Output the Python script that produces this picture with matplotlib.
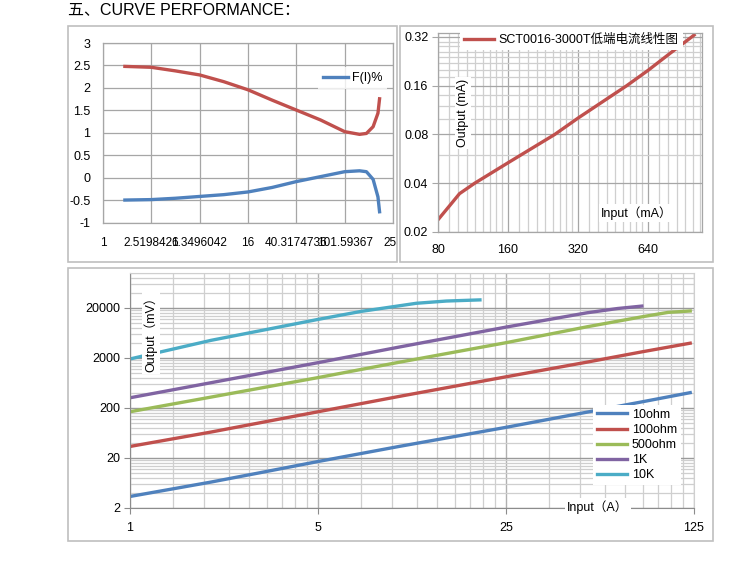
import numpy as np
import matplotlib
matplotlib.use("Agg")
import matplotlib.pyplot as plt
from matplotlib.patches import Rectangle
from matplotlib.ticker import FixedLocator, FixedFormatter, NullFormatter
from matplotlib.transforms import Bbox, TransformedBbox

plt.rcParams['font.family'] = ['Liberation Sans', 'Noto Sans CJK SC']

W, H = 750, 569

# --- top left: F(I)% ---
fi_x = [1.52, 2.52, 4.0, 6.35, 10.08, 16, 25.4, 40.3, 64, 101.6, 135, 154, 175, 192, 198]
fi_red = [2.48, 2.46, 2.38, 2.29, 2.14, 1.96, 1.73, 1.51, 1.29, 1.03, 0.97, 0.99, 1.14, 1.44, 1.76]
fi_blue = [-0.49, -0.48, -0.45, -0.41, -0.37, -0.31, -0.21, -0.08, 0.03, 0.14, 0.16, 0.14, -0.03, -0.42, -0.75]
fi_ticks = [1, 2.5198421, 6.3496042, 16, 40.3174736, 101.59367, 256]
fi_labels = ['1', '2.5198421', '6.3496042', '16', '40.3174736', '101.59367', '256']

# --- top right: low-end linearity ---
lin_in = [80, 90, 99, 115, 160, 254, 320, 518, 640, 800, 986, 1010]
lin_out = [0.0238, 0.0292, 0.0345, 0.040, 0.0535, 0.080, 0.101, 0.160, 0.199, 0.255, 0.320, 0.329]
lin_xticks = [80, 160, 320, 640]
lin_yticks = [0.02, 0.04, 0.08, 0.16, 0.32]

# --- bottom: output vs input for load resistors ---
loads = ['10ohm', '100ohm', '500ohm', '1K', '10K']
load_colors = ['#4F81BD', '#C0504D', '#9BBB59', '#8064A2', '#4BACC6']
in_10 = [1, 2, 3, 5, 10, 25, 50, 80, 121]
out_10 = [3.4, 6.6, 10, 17, 34, 82, 165, 265, 405]
in_100 = [1, 2, 5, 10, 25, 50, 80, 121]
out_100 = [34, 66, 168, 340, 840, 1650, 2650, 3950]
in_500 = [1, 2, 5, 10, 25, 50, 80, 100, 121]
out_500 = [168, 330, 810, 1640, 4040, 8400, 13300, 16300, 17400]
in_1k = [1, 2, 5, 10, 25, 50, 65, 80]
out_1k = [320, 640, 1610, 3300, 8280, 16000, 19500, 21800]
in_10k = [1, 2, 5, 7.2, 11.6, 15, 20]
out_10k = [1910, 4500, 11800, 17000, 24800, 27500, 29000]
big_xticks = [1, 5, 25, 125]
big_yticks = [2, 20, 200, 2000, 20000]

fig = plt.figure(figsize=(W / 100, H / 100), dpi=100)


def fbox(l, t, r, b):
    return [l / W, 1 - b / H, (r - l) / W, (b - t) / H]


def frame(l, t, r, b):
    fig.patches.append(Rectangle((l / W, 1 - b / H), (r - l) / W, (b - t) / H,
                                 transform=fig.transFigure, fill=False,
                                 ec='#bfbfbf', lw=1.2))


def linear_minors(majors, n, hi):
    out = []
    for a, b in zip(majors[:-1], majors[1:]):
        out += list(np.linspace(a, b, n + 1)[1:-1])
    return [v for v in out if v < hi]


fig.text(68 / W, 1 - 10 / H, '五、CURVE PERFORMANCE：', fontsize=11.5, va='center')

frame(68, 26, 397, 262)
frame(400, 26, 713, 262)
frame(68, 268, 713, 541)

grid_major = '#a6a6a6'
grid_minor = '#cfcfcf'

# top left
ax1 = fig.add_axes(fbox(103, 43, 393, 223))
ax1.plot(fi_x, fi_red, color='#C0504D', lw=2.4, label='_nolegend_')
ax1.plot(fi_x, fi_blue, color='#4F81BD', lw=2.4, label='F(I)%')
ax1.set_xscale('log', base=2)
ax1.set_xlim(1, 256)
ax1.set_ylim(-1, 3)
ax1.xaxis.set_major_locator(FixedLocator(fi_ticks))
ax1.xaxis.set_major_formatter(FixedFormatter(fi_labels))
ax1.xaxis.set_minor_locator(FixedLocator([]))
ax1.set_yticks(np.arange(-1, 3.01, 0.5))
ax1.set_yticklabels(['-1', '-0.5', '0', '0.5', '1', '1.5', '2', '2.5', '3'])
ax1.grid(True, color=grid_major, lw=0.9)
ax1.set_axisbelow(True)
ax1.tick_params(length=0, labelsize=9, pad=9)
ax1.tick_params(axis='x', pad=10, labelsize=8.5)
for s in ax1.spines.values():
    s.set_color(grid_major)
    s.set_linewidth(0.9)
ax1.legend(loc='center left', bbox_to_anchor=(318 / W, 1 - 78 / H),
           bbox_transform=fig.transFigure, frameon=True, fancybox=False,
           edgecolor='none', fontsize=9, handlelength=2.0, handletextpad=0.3,
           borderpad=0.4, borderaxespad=0)
clip = TransformedBbox(Bbox.from_extents(0, 0, 396 / W, 1), fig.transFigure)
for t in ax1.xaxis.get_major_ticks():
    t.label1.set_clip_on(True)
    t.label1.set_clip_box(clip)

# top right
ax2 = fig.add_axes(fbox(438, 32.7, 702, 232))
ax2.plot(lin_in, lin_out, color='#C0504D', lw=2.4, label='SCT0016-3000T低端电流线性图')
ax2.set_xscale('log', base=2)
ax2.set_yscale('log', base=2)
ax2.set_xlim(80, 1092)
ax2.set_ylim(0.02, 0.34)
ax2.xaxis.set_major_locator(FixedLocator(lin_xticks))
ax2.xaxis.set_major_formatter(FixedFormatter([str(v) for v in lin_xticks]))
ax2.xaxis.set_minor_locator(FixedLocator(linear_minors(lin_xticks + [1280], 9, 1092)))
ax2.xaxis.set_minor_formatter(NullFormatter())
ax2.yaxis.set_major_locator(FixedLocator(lin_yticks))
ax2.yaxis.set_major_formatter(FixedFormatter(['0.02', '0.04', '0.08', '0.16', '0.32']))
ymin2 = [v for v in np.arange(0.06, 0.335, 0.02) if not any(abs(v - m) < 1e-6 for m in lin_yticks)]
ax2.yaxis.set_minor_locator(FixedLocator(ymin2))
ax2.yaxis.set_minor_formatter(NullFormatter())
ax2.grid(True, which='major', color=grid_major, lw=0.9)
ax2.grid(True, which='minor', color=grid_minor, lw=0.9)
ax2.set_axisbelow(True)
ax2.tick_params(which='both', labelsize=9)
ax2.tick_params(axis='y', which='major', length=4, color=grid_major, pad=3)
ax2.tick_params(axis='x', which='major', length=0, pad=9)
ax2.tick_params(which='minor', length=0)
for s in ax2.spines.values():
    s.set_color(grid_major)
    s.set_linewidth(0.9)
ax2.legend(loc='center left', bbox_to_anchor=(460 / W, 1 - 40 / H),
           bbox_transform=fig.transFigure, frameon=True, fancybox=False,
           edgecolor='none', framealpha=1, fontsize=9, handlelength=2.4,
           handletextpad=0.4, borderpad=0.3, borderaxespad=0)
fig.text(463 / W, 1 - 113 / H, 'Output (mA)', rotation=90, fontsize=9,
         ha='center', va='center',
         bbox=dict(fc='white', ec='none', pad=1.5))
fig.text(637 / W, 1 - 213 / H, 'Input（mA）', fontsize=9, ha='center', va='center',
         bbox=dict(fc='white', ec='none', pad=1.5))

# bottom
ax3 = fig.add_axes(fbox(130, 273, 694, 508))
series = [(in_10, out_10), (in_100, out_100), (in_500, out_500), (in_1k, out_1k), (in_10k, out_10k)]
for (xs, ys), name, c in zip(series, loads, load_colors):
    ax3.plot(xs, ys, color=c, lw=2.4, label=name)
ax3.set_xscale('log', base=5)
ax3.set_yscale('log', base=10)
ax3.set_xlim(1, 125)
ax3.set_ylim(2, 100000)
ax3.xaxis.set_major_locator(FixedLocator(big_xticks))
ax3.xaxis.set_major_formatter(FixedFormatter([str(v) for v in big_xticks]))
ax3.xaxis.set_minor_locator(FixedLocator(linear_minors(big_xticks, 9, 125)))
ax3.xaxis.set_minor_formatter(NullFormatter())
ax3.yaxis.set_major_locator(FixedLocator(big_yticks))
ax3.yaxis.set_major_formatter(FixedFormatter([str(v) for v in big_yticks]))
ax3.yaxis.set_minor_locator(FixedLocator(linear_minors(big_yticks + [200000], 9, 100001)))
ax3.yaxis.set_minor_formatter(NullFormatter())
ax3.grid(True, which='major', axis='y', color='#9a9a9a', lw=1.0)
ax3.grid(True, which='major', axis='x', color='#b0b0b0', lw=1.0)
ax3.grid(True, which='minor', color=grid_minor, lw=0.9)
ax3.set_axisbelow(True)
ax3.tick_params(which='major', length=4, color='#8c8c8c', labelsize=9)
ax3.tick_params(axis='y', pad=3)
ax3.tick_params(axis='x', pad=6)
ax3.tick_params(which='minor', length=0)
for s in ax3.spines.values():
    s.set_color(grid_minor)
ax3.spines['left'].set_color('#8c8c8c')
ax3.spines['bottom'].set_color('#8c8c8c')
ax3.legend(loc='upper left', bbox_to_anchor=(593 / W, 1 - 405 / H),
           bbox_transform=fig.transFigure, frameon=True, fancybox=False,
           edgecolor='none', framealpha=1, fontsize=9, handlelength=2.4,
           handletextpad=0.4, labelspacing=0.25, borderpad=0.3, borderaxespad=0)
fig.text(151 / W, 1 - 331 / H, 'Output（mV）', rotation=90, fontsize=9,
         ha='center', va='center',
         bbox=dict(fc='white', ec='none', pad=1.5))
fig.text(598 / W, 1 - 507 / H, 'Input（A）', fontsize=9, ha='center', va='center',
         bbox=dict(fc='white', ec='none', pad=1.5))

fig.savefig('out.png', dpi=100)
